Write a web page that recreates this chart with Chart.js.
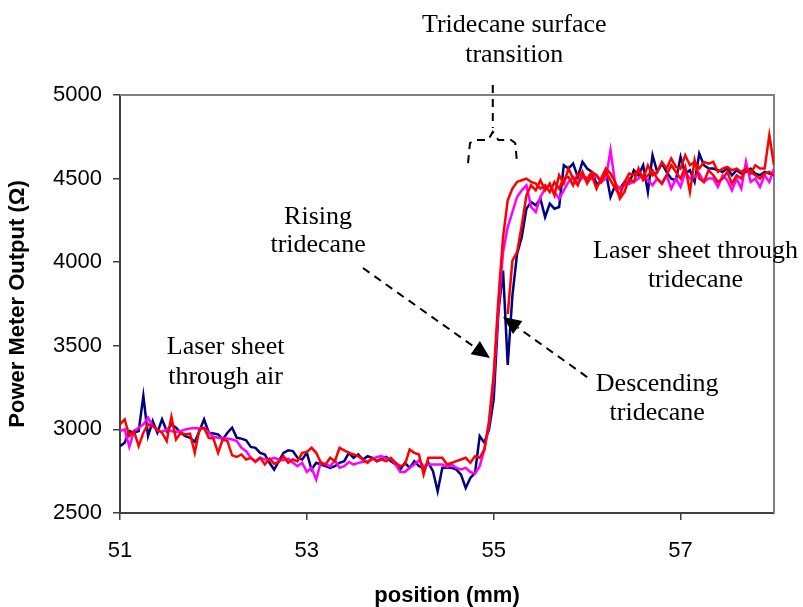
<!DOCTYPE html>
<html>
<head>
<meta charset="utf-8">
<script src="https://cdn.jsdelivr.net/npm/chart.js@4.4.0/dist/chart.umd.min.js"></script>
<style>
  html, body { margin: 0; padding: 0; background: #fff; }
</style>
</head>
<body>
<canvas id="chart" width="803" height="607"></canvas>
<script>
// scan positions (mm)
const positions = [
  51.00, 51.05, 51.10, 51.15, 51.20, 51.25, 51.30, 51.35, 51.40, 51.45, 51.50, 51.55, 51.60, 51.65, 51.70, 51.75, 51.80, 51.85, 51.90, 51.95,
  52.00, 52.05, 52.10, 52.15, 52.20, 52.25, 52.30, 52.35, 52.40, 52.45, 52.50, 52.55, 52.60, 52.65, 52.70, 52.75, 52.80, 52.85, 52.90, 52.95,
  53.00, 53.05, 53.10, 53.15, 53.20, 53.25, 53.30, 53.35, 53.40, 53.45, 53.50, 53.55, 53.60, 53.65, 53.70, 53.75, 53.80, 53.85, 53.90, 53.95,
  54.00, 54.05, 54.10, 54.15, 54.20, 54.25, 54.30, 54.35, 54.40, 54.45, 54.50, 54.55, 54.60, 54.65, 54.70, 54.75, 54.80, 54.85, 54.90, 54.95,
  55.00, 55.05, 55.10, 55.15, 55.20, 55.25, 55.30, 55.35, 55.40, 55.45, 55.50, 55.55, 55.60, 55.65, 55.70, 55.75, 55.80, 55.85, 55.90, 55.95,
  56.00, 56.05, 56.10, 56.15, 56.20, 56.25, 56.30, 56.35, 56.40, 56.45, 56.50, 56.55, 56.60, 56.65, 56.70, 56.75, 56.80, 56.85, 56.90, 56.95,
  57.00, 57.05, 57.10, 57.15, 57.20, 57.25, 57.30, 57.35, 57.40, 57.45, 57.50, 57.55, 57.60, 57.65, 57.70, 57.75, 57.80, 57.85, 57.90, 57.95, 58.00
];
// second red run only starts after the surface
const descPositions = [
  55.15, 55.20, 55.25, 55.30, 55.35, 55.40, 55.45, 55.50, 55.55, 55.60, 55.65, 55.70, 55.75, 55.80, 55.85, 55.90, 55.95,
  56.00, 56.05, 56.10, 56.15, 56.20, 56.25, 56.30, 56.35, 56.40, 56.45, 56.50, 56.55, 56.60, 56.65, 56.70, 56.75, 56.80, 56.85, 56.90, 56.95,
  57.00, 57.05, 57.10, 57.15, 57.20, 57.25, 57.30, 57.35, 57.40, 57.45, 57.50, 57.55, 57.60, 57.65, 57.70, 57.75, 57.80, 57.85, 57.90, 57.95, 58.00
];

const navy = [
  2900, 2920, 2990, 2980, 2990, 3200, 2960, 3050, 2980, 3060, 2990, 3030, 3010, 2980, 2960, 2950, 2925, 2990, 3060, 2980,
  2975, 2970, 2940, 2980, 3010, 2950, 2945, 2935, 2895, 2890, 2860, 2850, 2800, 2760, 2810, 2860, 2875, 2870, 2830, 2820,
  2860, 2760, 2800, 2790, 2780, 2770, 2780, 2800, 2810, 2860, 2830, 2850, 2820, 2840, 2830, 2810, 2825, 2835, 2810, 2790,
  2760, 2800, 2770, 2810, 2780, 2770, 2800, 2750, 2630, 2770, 2770, 2770, 2760, 2730, 2650, 2710, 2740, 2960, 2920, 3000,
  3180, 3700, 3950, 3385, 3800, 4050, 4150, 4320, 4360, 4340, 4380, 4270, 4350, 4320, 4330, 4580, 4560, 4590, 4510, 4600,
  4560, 4540, 4470, 4480, 4540, 4390, 4460, 4440, 4480, 4470, 4550, 4520, 4580, 4420, 4640, 4540, 4590, 4540, 4500, 4490,
  4630, 4530, 4550, 4480, 4650, 4580, 4560, 4560, 4550, 4540, 4560, 4520, 4550, 4530, 4540, 4560, 4530, 4520, 4540, 4530, 4520
];
const magenta = [
  2990, 3000, 2895, 2990, 3010, 3030, 3070, 3020, 2995, 2985, 3000, 2990, 2985, 2990, 3000, 3005, 3008, 3005, 3008, 2980,
  2955, 2950, 2945, 2945, 2940, 2930, 2890, 2870, 2830, 2805, 2830, 2820, 2820, 2830, 2820, 2815, 2825, 2800, 2780, 2800,
  2745, 2770, 2700, 2805, 2790, 2780, 2815, 2770, 2780, 2805, 2790, 2800, 2805, 2810, 2820, 2835, 2840, 2825, 2825, 2790,
  2745, 2745, 2770, 2790, 2815, 2780, 2790, 2790, 2790, 2790, 2775, 2790, 2770, 2760, 2770, 2745, 2735, 2780, 2880, 3030,
  3300, 3720, 4060, 4210, 4300, 4390, 4430, 4460, 4330, 4300, 4390, 4440, 4460, 4420, 4380, 4430, 4480, 4510, 4470, 4510,
  4490, 4500, 4520, 4480, 4500, 4670, 4470, 4440, 4460, 4470, 4480, 4500, 4520, 4490, 4460, 4500, 4470, 4520, 4440, 4500,
  4450, 4540, 4500, 4510, 4530, 4480, 4500, 4500, 4450, 4520, 4490, 4430, 4500, 4440, 4600, 4480, 4500, 4450, 4520, 4480, 4560
];
const redRise = [
  3030, 3060, 2960, 2990, 2900, 2980, 3030, 3020, 3000, 2980, 2930, 3075, 2940, 2980, 2970, 2975, 2860, 3000, 3010, 2950,
  2945, 2860, 2940, 2930, 2845, 2835, 2850, 2820, 2830, 2810, 2830, 2790, 2825, 2795, 2805, 2840, 2800, 2820, 2810, 2860,
  2865, 2890, 2860, 2800, 2790, 2830, 2810, 2890, 2875, 2860, 2850, 2840, 2820, 2800, 2830, 2810, 2820, 2810, 2830, 2800,
  2780, 2790, 2880, 2860, 2850, 2730, 2830, 2830, 2830, 2830, 2790, 2800, 2810, 2820, 2830, 2800, 2840, 2830, 2880, 3050,
  3330, 3780, 4150, 4370, 4440, 4480, 4490, 4500, 4480, 4470, 4440, 4460, 4420, 4480, 4440, 4500, 4510, 4460, 4530, 4520,
  4500, 4540, 4520, 4480, 4540, 4490, 4440, 4400, 4480, 4530, 4520, 4550, 4500, 4580, 4520, 4540, 4600, 4560, 4620, 4570,
  4560, 4640, 4580, 4600, 4560, 4600, 4590, 4600, 4540, 4560, 4570, 4550, 4560, 4540, 4560, 4530, 4580, 4560, 4560, 4760, 4580
];
const redDesc = [
  3690, 4010, 4060, 4220, 4400, 4460, 4430, 4490, 4430, 4470, 4400, 4520, 4470, 4560, 4500, 4460, 4540,
  4470, 4520, 4440, 4500, 4560, 4530, 4480, 4380, 4420, 4500, 4480, 4560, 4490, 4520, 4550, 4500, 4470, 4520, 4580, 4540,
  4500, 4570, 4420, 4610, 4500, 4480, 4550, 4520, 4480, 4500, 4540, 4470, 4520, 4500, 4560, 4540, 4520, 4500, 4530, 4540, 4520
];

const xTicks = [51, 53, 55, 57];
const yTicks = [2500, 3000, 3500, 4000, 4500, 5000];

// annotation texts, anchored in data units (x = mm, y = output)
const notes = [
  { text: 'Tridecane surface', x: 55.22, y: 5377 },
  { text: 'transition', x: 55.22, y: 5197 },
  { text: 'Rising', x: 53.12, y: 4228 },
  { text: 'tridecane', x: 53.12, y: 4061 },
  { text: 'Laser sheet through', x: 57.16, y: 4025 },
  { text: 'tridecane', x: 57.16, y: 3852 },
  { text: 'Laser sheet', x: 52.13, y: 3451 },
  { text: 'through air', x: 52.13, y: 3272 },
  { text: 'Descending', x: 56.75, y: 3230 },
  { text: 'tridecane', x: 56.75, y: 3056 }
];
const arrows = [
  { from: [53.60, 3965], to: [54.96, 3427] },
  { from: [56.00, 3313], to: [55.10, 3672] }
];
const braceLine = [[54.99, 5060], [54.99, 4803]];
const brace = [[54.725, 4593], [54.746, 4713], [54.80, 4731], [54.94, 4731], [54.99, 4779],
               [55.05, 4731], [55.185, 4731], [55.23, 4713], [55.25, 4593]];

function pts(xs, ys) {
  return xs.map((x, i) => ({ x: x, y: ys[i] }));
}

const annotate = {
  id: 'annotate',
  beforeDatasetsDraw(chart) {
    const a = chart.chartArea, ctx = chart.ctx;
    ctx.save();
    ctx.strokeStyle = '#808080';
    ctx.lineWidth = 2;
    ctx.beginPath();
    ctx.moveTo(a.left, a.top);
    ctx.lineTo(a.right, a.top);
    ctx.lineTo(a.right, a.bottom);
    ctx.stroke();
    ctx.restore();
  },
  afterDraw(chart) {
    const ctx = chart.ctx, sx = chart.scales.x, sy = chart.scales.y;
    const px = p => [sx.getPixelForValue(p[0]), sy.getPixelForValue(p[1])];
    ctx.save();
    ctx.fillStyle = '#000';
    ctx.font = '26px "Liberation Serif", "Times New Roman", serif';
    ctx.textAlign = 'center';
    ctx.textBaseline = 'alphabetic';
    notes.forEach(n => ctx.fillText(n.text, sx.getPixelForValue(n.x), sy.getPixelForValue(n.y)));

    ctx.strokeStyle = '#000';
    ctx.lineWidth = 2;
    ctx.setLineDash([8, 6]);
    [braceLine, brace].forEach(line => {
      ctx.beginPath();
      line.forEach((p, i) => {
        const q = px(p);
        if (i === 0) ctx.moveTo(q[0], q[1]); else ctx.lineTo(q[0], q[1]);
      });
      ctx.stroke();
    });

    arrows.forEach(ar => {
      const f = px(ar.from), t = px(ar.to);
      const dx = t[0] - f[0], dy = t[1] - f[1];
      const len = Math.hypot(dx, dy), ux = dx / len, uy = dy / len;
      const hl = 18, hw = 8;
      const bx = t[0] - ux * hl, by = t[1] - uy * hl;
      ctx.setLineDash([8, 6]);
      ctx.beginPath();
      ctx.moveTo(f[0], f[1]);
      ctx.lineTo(bx, by);
      ctx.stroke();
      ctx.setLineDash([]);
      ctx.beginPath();
      ctx.moveTo(t[0], t[1]);
      ctx.lineTo(bx - uy * hw, by + ux * hw);
      ctx.lineTo(bx + uy * hw, by - ux * hw);
      ctx.closePath();
      ctx.fill();
    });
    ctx.restore();
  }
};

const axisColor = '#404040';
const tickFont = { family: 'Arial, "Liberation Sans", sans-serif', size: 22 };
const titleFont = { family: 'Arial, "Liberation Sans", sans-serif', size: 22, weight: 'bold', lineHeight: 1.2 };

const config = {
  type: 'line',
  data: {
    datasets: [
      { label: 'red rising', data: pts(positions, redRise), borderColor: '#ff0000' },
      { label: 'red descending', data: pts(descPositions, redDesc), borderColor: '#ff0000' },
      { label: 'magenta', data: pts(positions, magenta), borderColor: '#ff00ff' },
      { label: 'navy', data: pts(positions, navy), borderColor: '#000080' }
    ]
  },
  options: {
    responsive: false,
    animation: false,
    devicePixelRatio: 1,
    layout: { padding: { top: 95, right: 29, left: 0, bottom: 0 } },
    elements: {
      point: { radius: 0 },
      line: { borderWidth: 2.5, tension: 0, fill: false }
    },
    plugins: { legend: { display: false }, tooltip: { enabled: false } },
    scales: {
      x: {
        type: 'linear',
        min: 51,
        max: 58,
        afterBuildTicks: s => { s.ticks = xTicks.map(v => ({ value: v })); },
        afterFit: s => { s.height = 94; },
        grid: { drawOnChartArea: false, tickLength: 7, color: axisColor, lineWidth: 1.5 },
        border: { color: axisColor, width: 2 },
        ticks: { color: '#000', font: tickFont, padding: 18, maxRotation: 0, callback: v => String(v) },
        title: { display: true, text: 'position (mm)', color: '#000',
                 font: { family: titleFont.family, size: 22, weight: 'bold', lineHeight: 1.0 }, padding: { top: 0, bottom: 0 } }
      },
      y: {
        min: 2500,
        max: 5000,
        afterBuildTicks: s => { s.ticks = yTicks.map(v => ({ value: v })); },
        afterFit: s => { s.width = 120; },
        grid: { drawOnChartArea: false, tickLength: 7, color: axisColor, lineWidth: 1.5 },
        border: { color: axisColor, width: 2 },
        ticks: { color: '#000', font: tickFont, padding: 11, callback: v => String(v) },
        title: { display: true, text: 'Power Meter Output (Ω)', color: '#000', font: titleFont, padding: { top: 5, bottom: 0 } }
      }
    }
  },
  plugins: [annotate]
};

const chart = new Chart(document.getElementById('chart'), config);
</script>
</body>
</html>
